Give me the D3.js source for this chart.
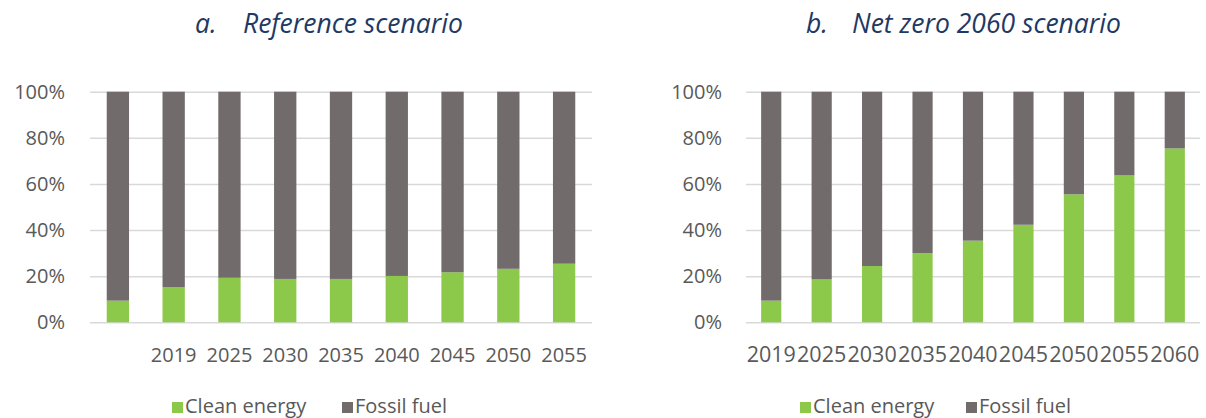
<!DOCTYPE html>
<html><head><meta charset="utf-8">
<script src="https://cdn.jsdelivr.net/npm/d3@7"></script>
<style>body{margin:0;background:#fff;} svg{display:block;}</style>
</head><body>
<svg id="chart" width="1206" height="418"></svg>
<script>
// ---- data ----
const refLabels = ["", "2019", "2025", "2030", "2035", "2040", "2045", "2050", "2055"];
const refClean  = [9.4, 15.3, 19.3, 18.8, 18.8, 20.1, 21.7, 23.2, 25.4];
const nzLabels  = ["2019", "2025", "2030", "2035", "2040", "2045", "2050", "2055", "2060"];
const nzClean   = [9.4, 18.6, 24.4, 30.0, 35.4, 42.3, 55.5, 63.7, 75.4];
const yTicks    = [0, 20, 40, 60, 80, 100];
const seriesNames = ["Clean energy", "Fossil fuel"];

const colors = {clean: "#8cc94a", fossil: "#716b6b", grid: "#d9d9d9", text: "#595959", title: "#1f3864"};
const font = "'Open Sans', sans-serif";

const svg = d3.select("#chart");

function panel(o) {
  const top = 91.7, bottom = 322.3;
  const g = svg.append("g");
  const x = d3.scaleBand().domain(d3.range(o.labels.length)).range([o.x0, o.x1]).paddingInner(0.6).paddingOuter(0.3);
  const y = d3.scaleLinear().domain([0, 100]).range([bottom, top]);

  // gridlines + y labels
  const yAxis = d3.axisLeft(y).tickValues(yTicks).tickSize(-(o.x1 - o.x0)).tickPadding(o.yPad).tickFormat(d => d + "%");
  const ya = g.append("g").attr("transform", `translate(${o.x0},0)`).call(yAxis);
  ya.select(".domain").remove();
  ya.selectAll("line").attr("stroke", colors.grid).attr("stroke-width", 1.5);
  ya.selectAll("text").attr("fill", colors.text).style("font-family", font).style("font-size", "20px");

  // stacked bars
  const stack = d3.stack().keys(["clean", "fossil"])(o.clean.map((c, i) => ({i, clean: c, fossil: 100 - c})));
  const colorOf = {clean: colors.clean, fossil: colors.fossil};
  g.selectAll("g.series").data(stack).join("g").attr("class", "series")
    .attr("fill", s => colorOf[s.key])
    .selectAll("rect").data(s => s).join("rect")
    .attr("x", d => x(d.data.i)).attr("width", x.bandwidth())
    .attr("y", d => y(d[1])).attr("height", d => y(d[0]) - y(d[1]));

  // x labels
  const xAxis = d3.axisBottom(x).tickSize(0).tickPadding(0).tickFormat(i => o.labels[i]);
  const xa = g.append("g").attr("transform", `translate(0,${o.xBase})`).call(xAxis);
  xa.select(".domain").remove();
  xa.selectAll("text").attr("fill", colors.text).attr("dy", 0).attr("y", 0)
    .style("font-family", font).style("font-size", o.xFont + "px");

  // title
  [[o.titleLetter, o.titleLetterX], [o.titleText, o.titleTextX]].forEach(([t, tx]) => {
    g.append("text").attr("x", tx).attr("y", 33).text(t)
      .attr("fill", colors.title).style("font-family", font).style("font-style", "italic").style("font-size", "26.5px");
  });

  // legend
  const leg = g.append("g").attr("transform", `translate(${o.legendX},0)`);
  const items = [{name: seriesNames[0], c: colors.clean, dx: 0}, {name: seriesNames[1], c: colors.fossil, dx: o.legendGap}];
  items.forEach(it => {
    leg.append("rect").attr("x", it.dx).attr("y", 402).attr("width", 11).attr("height", 11).attr("fill", it.c);
    leg.append("text").attr("x", it.dx + 13).attr("y", 413).text(it.name)
      .attr("fill", colors.text).style("font-family", font).style("font-size", "20px");
  });
}

panel({x0: 90, x1: 592, yPad: 25, labels: refLabels, clean: refClean, xBase: 362, xFont: 20,
  titleLetter: "a.", titleText: "Reference scenario", titleLetterX: 195, titleTextX: 243,
  legendX: 172, legendGap: 170});
panel({x0: 746, x1: 1200, yPad: 24, labels: nzLabels, clean: nzClean, xBase: 362, xFont: 21.5,
  titleLetter: "b.", titleText: "Net zero 2060 scenario", titleLetterX: 806, titleTextX: 852,
  legendX: 800, legendGap: 166});
</script>
</body></html>
